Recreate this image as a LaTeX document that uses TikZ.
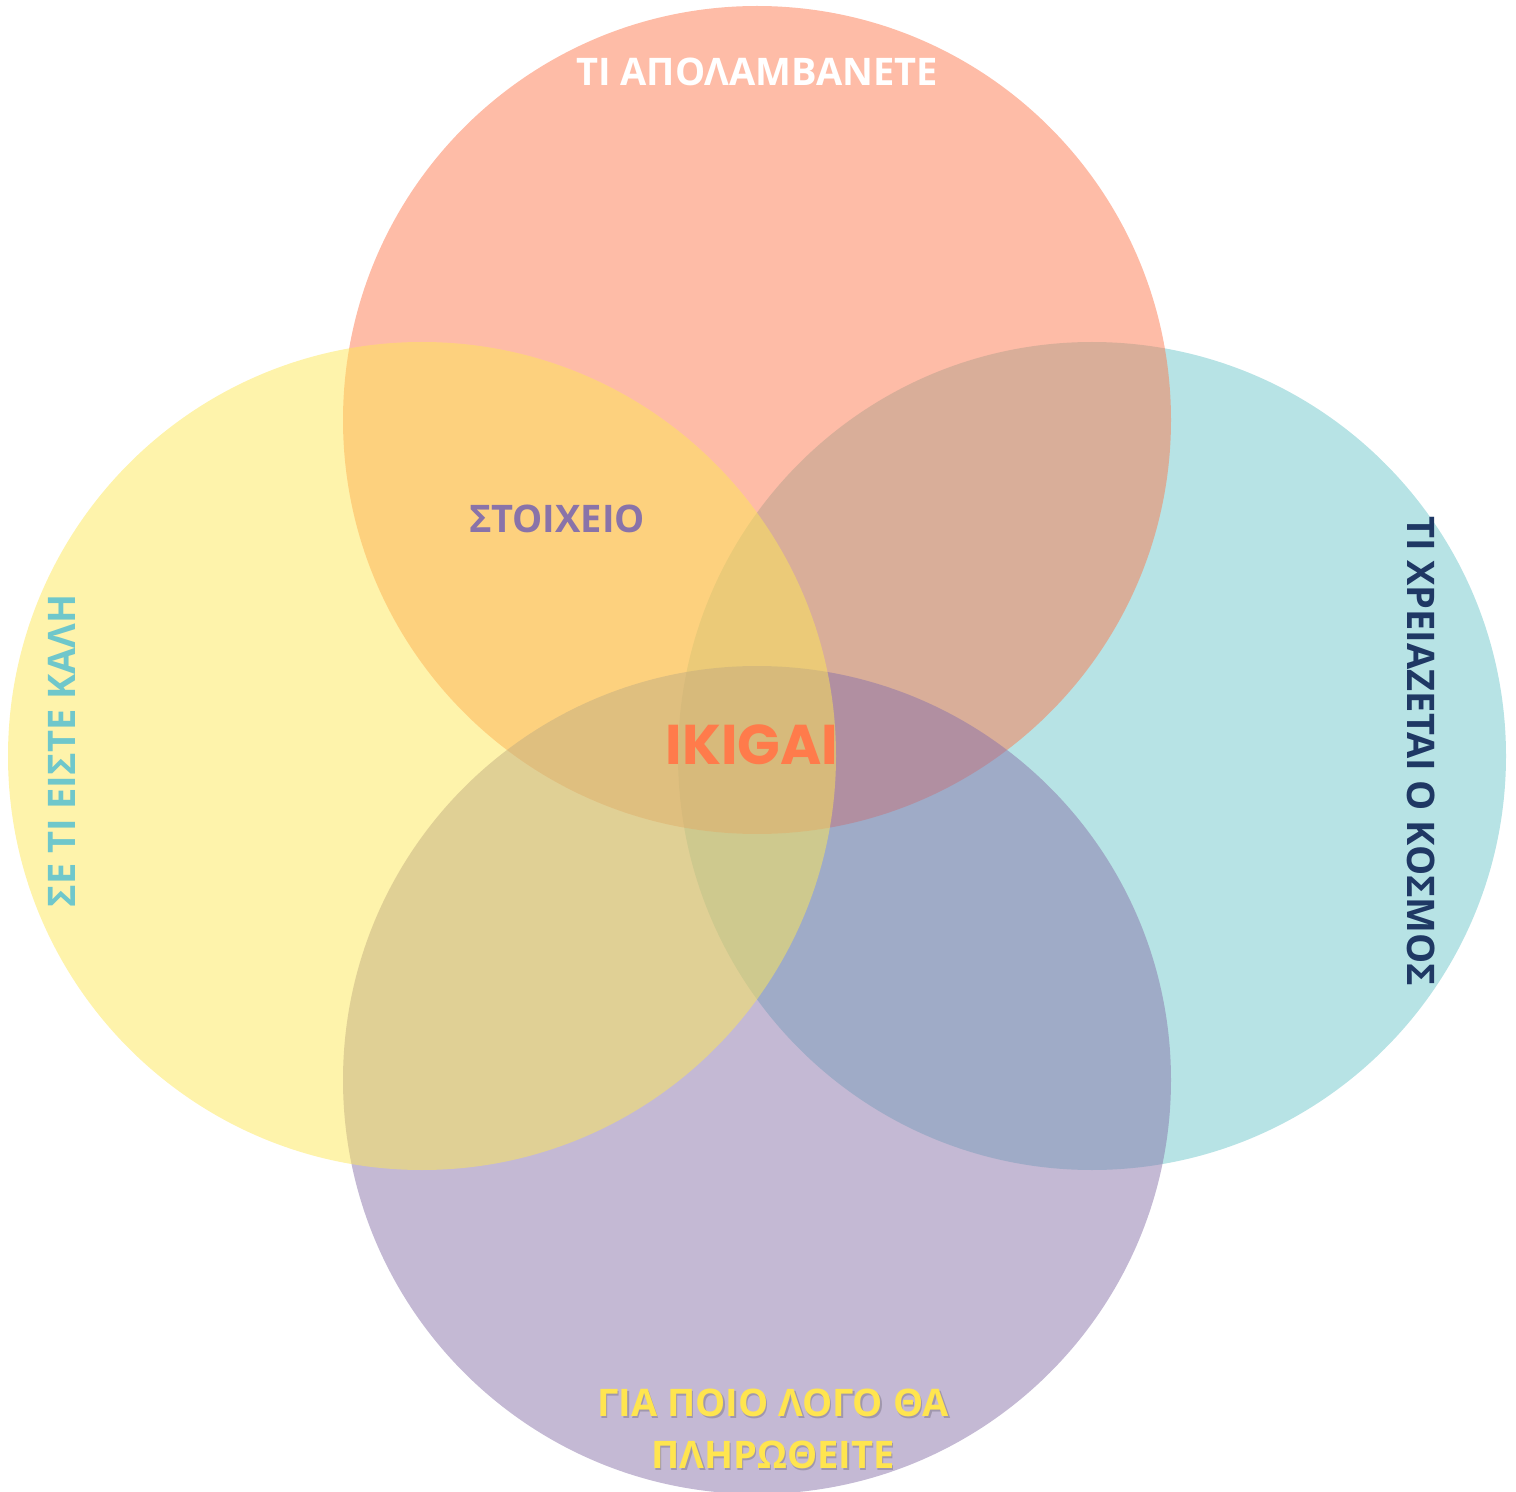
\documentclass[tikz,border=0pt]{standalone}
\usepackage{fontspec}
\setmainfont{Open Sans}
\newfontfamily\ikifont{Poppins}
\definecolor{csalmon}{HTML}{FD794F}
\definecolor{cyellow}{HTML}{FDE757}
\definecolor{cteal}{HTML}{6FC7CB}
\definecolor{cpurple}{HTML}{8973A9}
\definecolor{cnavy}{HTML}{1F3864}
\definecolor{cgold}{HTML}{FFE54F}
\definecolor{corange}{HTML}{FF7B4B}
\begin{document}
\begin{tikzpicture}[x=0.5pt,y=-0.5pt,
  petal/.style={circle,minimum size=414pt,inner sep=0pt,fill opacity=0.5,draw=none},
  lbl/.style={font=\fontsize{19}{23}\selectfont\bfseries,inner sep=0pt,align=center}]
\useasboundingbox (0,0) rectangle (1516,1492);
\node[petal,fill=cteal]   (right)  at (1092,756) {};
\node[petal,fill=csalmon] (top)    at (757,420) {};
\node[petal,fill=cpurple] (bottom) at (757,1080) {};
\node[petal,fill=cyellow] (left)   at (422,756) {};
\node[lbl,text=white] (ttop) at (757,72) {ΤΙ ΑΠΟΛΑΜΒΑΝΕΤΕ};
\node[lbl,text=cpurple] (tstoix) at (557,519) {ΣΤΟΙΧΕΙΟ};
\node[lbl,text=cteal,rotate=90] (tleft) at (62,751) {ΣΕ ΤΙ ΕΙΣΤΕ ΚΑΛΗ};
\node[lbl,text=cnavy,rotate=-90] (tright) at (1421,751) {ΤΙ ΧΡΕΙΑΖΕΤΑΙ Ο ΚΟΣΜΟΣ};
\node[lbl,text=black,text opacity=0.18,font=\fontsize{19}{26}\selectfont\bfseries] (tbshadow) at (774.5,1430.5) {ΓΙΑ ΠΟΙΟ ΛΟΓΟ ΘΑ\\ΠΛΗΡΩΘΕΙΤΕ};
\node[lbl,text=cgold,font=\fontsize{19}{26}\selectfont\bfseries] (tbottom) at (773,1429) {ΓΙΑ ΠΟΙΟ ΛΟΓΟ ΘΑ\\ΠΛΗΡΩΘΕΙΤΕ};
\node[inner sep=0pt,text=corange,font=\ikifont\fontsize{28}{32}\selectfont\bfseries] (tiki) at (752,745) {IKIGAI};
\end{tikzpicture}
\end{document}
